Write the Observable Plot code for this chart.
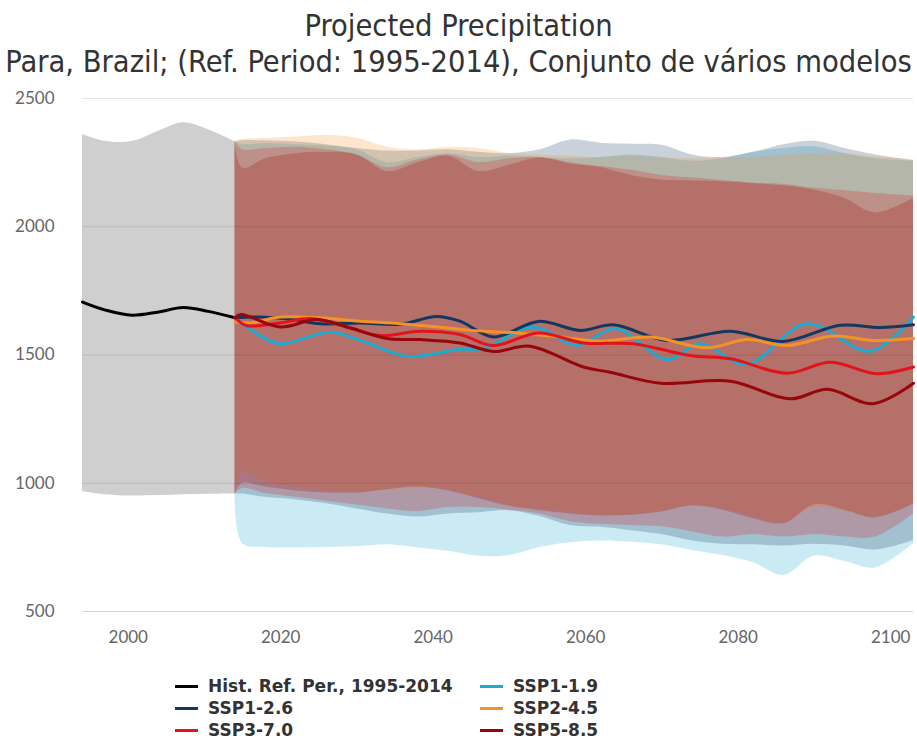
<!DOCTYPE html>
<html><head><meta charset="utf-8">
<script src="https://cdn.jsdelivr.net/npm/d3@7"></script>
<script src="https://cdn.jsdelivr.net/npm/@observablehq/plot@0.6"></script>
<style>
body{margin:0;background:#fff;font-family:Lato,"Open Sans",sans-serif;}
#wrap{position:relative;width:917px;height:742px;overflow:hidden;background:#fff}
.t{position:absolute;left:0;width:917px;text-align:center;color:#333;font-family:"Liberation Sans Narrow","DejaVu Sans Condensed",Lato,sans-serif;font-size:30.5px;white-space:nowrap;line-height:34px}
#chart{position:absolute;left:0;top:80px}
.leg{position:absolute;font-family:"DejaVu Sans",sans-serif;font-weight:bold;font-size:17px;color:#333;white-space:nowrap;line-height:22px}
.leg .sw{display:inline-block;width:23px;height:3px;vertical-align:middle;margin-right:10px;position:relative;top:-1px}
</style></head>
<body><div id="wrap">
<div class="t" style="top:9px">Projected Precipitation</div>
<div class="t" style="top:45px">Para, Brazil; (Ref. Period: 1995-2014), Conjunto de vários modelos</div>
<div id="chart"></div>
<div id="legend"></div>
</div>
<script>
// ---- Data ----
const scenarios = ["SSP1-1.9","SSP1-2.6","SSP2-4.5","SSP3-7.0","SSP5-8.5"];
const colors = ["#1fa9cf","#15375f","#f59227","#e2141b","#97060a"];
const legendLabels = ["Hist. Ref. Per., 1995-2014","SSP1-1.9","SSP1-2.6","SSP2-4.5","SSP3-7.0","SSP5-8.5"];
const legendColors = ["#000000","#1fa9cf","#15375f","#f59227","#e2141b","#97060a"];
const xTicks = [2000,2020,2040,2060,2080,2100];
const yTicks = [500,1000,1500,2000,2500];

// historical reference
const histYears = [1994,1997,2000.5,2004,2007.2,2010.5,2014];
const histMean  = [1706,1675,1655,1668,1685,1670,1645];
const histLow   = [967,955,950,952,955,957,958];
const histHigh  = [2360,2333,2332,2372,2405,2378,2331];

// projection mean lines
const ssp119Years = [2014,2016.5,2019.9,2026.5,2031.5,2036.6,2043.5,2046.6,2053.1,2058.9,2063.9,2070.7,2075.0,2081.1,2089.0,2097.3,2103];
const ssp119Mean  = [1645,1590,1544,1589,1545,1494,1522,1525,1609,1537,1603,1482,1544,1463,1622,1515,1648];
const ssp126Years = [2014,2017.3,2021.2,2025.2,2030.4,2035.7,2040.4,2043.5,2047.9,2053.8,2059.3,2063.6,2070.7,2079.0,2085.9,2093.4,2098.6,2103];
const ssp126Mean  = [1645,1648,1640,1622,1625,1620,1650,1632,1570,1631,1596,1618,1557,1593,1553,1616,1607,1618];
const ssp245Years = [2014,2016,2019.9,2025.2,2030.4,2035.7,2040.9,2044.9,2051.0,2056.7,2061.9,2068.5,2075.9,2081.2,2086.4,2092.5,2097.7,2103];
const ssp245Mean  = [1630,1625,1648,1645,1632,1622,1608,1596,1586,1570,1554,1570,1528,1560,1537,1574,1557,1564];
const ssp370Years = [2014,2015.5,2019.9,2023.9,2028.5,2033.0,2038.3,2043.5,2047.9,2053.8,2059.7,2066.2,2073.7,2079.0,2086.4,2092.1,2098.2,2103];
const ssp370Mean  = [1645,1615,1625,1642,1612,1576,1593,1580,1537,1586,1547,1544,1498,1485,1429,1472,1427,1453];
const ssp585Years = [2014,2014.8,2019.9,2024.8,2029.1,2034.0,2038.3,2043.5,2047.9,2052.7,2059.7,2063.2,2069.8,2079.0,2086.8,2091.7,2097.7,2103];
const ssp585Mean  = [1645,1658,1609,1638,1605,1564,1560,1547,1514,1534,1453,1433,1390,1398,1329,1366,1310,1390];

// projection ranges (common year grid)
const bandYears = [2014,2015,2018,2022,2026,2030,2034,2038,2042,2046,2050,2054,2058,2062,2066,2070,2074,2078,2082,2086,2090,2094,2098,2103];
const ssp119Low  = [958,764,750,748,750,752,760,748,735,715,718,750,768,775,770,760,738,718,690,640,716,695,670,764];
const ssp119High = [2331,2320,2325,2320,2315,2300,2250,2270,2285,2270,2275,2270,2265,2270,2280,2270,2255,2265,2290,2305,2312,2285,2265,2255];
const ssp126Low  = [958,958,945,935,920,900,880,868,880,885,893,870,835,828,815,800,775,762,760,755,762,755,740,776];
const ssp126High = [2331,2335,2335,2330,2320,2305,2295,2295,2300,2290,2285,2300,2338,2326,2322,2318,2280,2270,2290,2320,2333,2305,2280,2258];
const ssp245Low  = [958,1043,1005,985,968,965,972,980,975,945,915,898,885,875,876,890,910,900,870,845,905,890,868,920];
const ssp245High = [2331,2340,2345,2350,2357,2345,2310,2300,2310,2305,2285,2280,2275,2270,2275,2268,2265,2268,2270,2278,2285,2285,2272,2262];
const ssp370Low  = [958,980,960,945,930,915,900,890,905,905,895,880,850,840,835,830,810,790,800,790,800,790,790,880];
const ssp370High = [2331,2300,2305,2310,2300,2280,2230,2260,2280,2250,2265,2270,2250,2235,2220,2200,2190,2180,2170,2165,2150,2140,2130,2120];
const ssp585Low  = [958,1000,985,970,962,962,975,985,970,940,910,893,880,872,875,888,912,895,862,842,915,895,865,918];
const ssp585High = [2331,2228,2265,2285,2290,2280,2215,2250,2275,2215,2240,2268,2245,2231,2200,2182,2178,2175,2168,2160,2143,2110,2054,2110];

// ---- Build tables ----
const hist = histYears.map((x,i)=>({x, m:histMean[i], lo:histLow[i], hi:histHigh[i]}));
const lineSets = [[ssp119Years,ssp119Mean],[ssp126Years,ssp126Mean],[ssp245Years,ssp245Mean],[ssp370Years,ssp370Mean],[ssp585Years,ssp585Mean]];
const bandSets = [[ssp119Low,ssp119High],[ssp126Low,ssp126High],[ssp245Low,ssp245High],[ssp370Low,ssp370High],[ssp585Low,ssp585High]];
const lines = lineSets.map(([ys,vs],k)=>ys.map((x,i)=>({s:scenarios[k], x, m:vs[i]})));
const bands = bandSets.map(([lo,hi],k)=>bandYears.map((x,i)=>({s:scenarios[k], x, lo:lo[i], hi:hi[i]})));

const curve = "catmull-rom";
const marks = [
  Plot.areaY(hist, {x:"x", y1:"lo", y2:"hi", fill:"#cfcfcf", curve}),
  ...bands.map((b,k)=>Plot.areaY(b, {x:"x", y1:"lo", y2:"hi", fill:colors[k], fillOpacity:0.23, curve})),
  Plot.ruleY(yTicks.filter(v=>v>500), {stroke:"#000", strokeOpacity:0.1}),
  Plot.ruleY([500], {stroke:"#ccd6eb"}),
  Plot.line(hist, {x:"x", y:"m", stroke:"#000", strokeWidth:3, curve}),
  ...lines.map((l,k)=>Plot.line(l, {x:"x", y:"m", stroke:colors[k], strokeWidth:3, curve})),
  Plot.axisY({ticks:yTicks, tickSize:0, tickPadding:28, fill:"#666", label:null, tickFormat:"d"}),
  Plot.axisX({ticks:xTicks, tickSize:0, tickPadding:19, fill:"#666", label:null, tickFormat:"d"})
];

const chart = Plot.plot({
  width:917, height:580,
  marginLeft:82, marginRight:4, marginTop:18, marginBottom:49,
  x:{domain:[1994,2103]},
  y:{domain:[500,2500]},
  style:{fontSize:"17px", fontFamily:"Lato, 'Open Sans', sans-serif", background:"transparent", overflow:"visible"},
  marks
});
document.getElementById("chart").appendChild(chart);

// ---- Legend ----
const leg = document.getElementById("legend");
const pos = [[175,675],[480,675],[175,697],[480,697],[175,719],[480,719]];
legendLabels.forEach((lab,i)=>{
  const d = document.createElement("div");
  d.className = "leg";
  d.style.left = pos[i][0]+"px";
  d.style.top = pos[i][1]+"px";
  d.innerHTML = `<span class="sw" style="background:${legendColors[i]}"></span>${lab}`;
  leg.appendChild(d);
});
</script>
</body></html>
